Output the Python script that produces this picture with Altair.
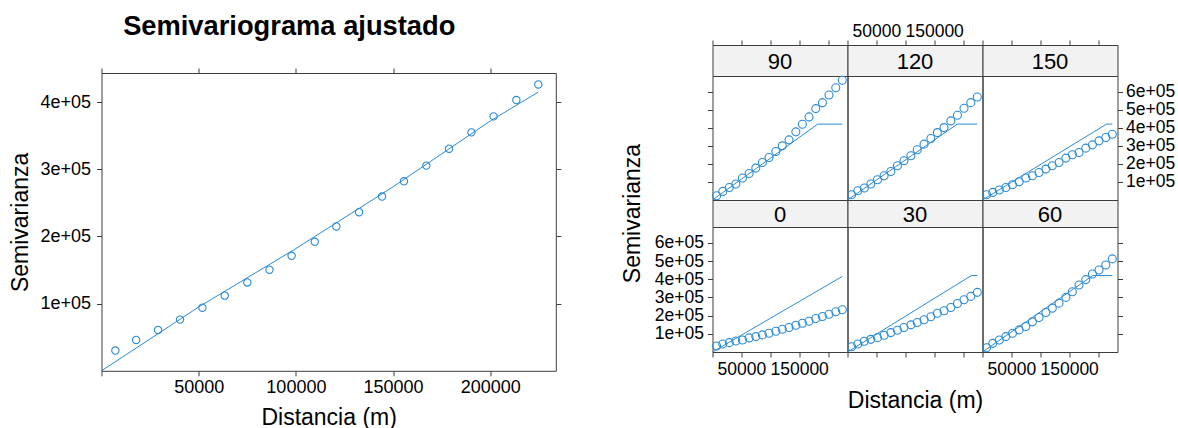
import altair as alt
import pandas as pd

FONT = "Liberation Sans"
BLUE = "#2a8ad6"
FRAME = "#3c3c3c"
STRIP_BG = "#f2f2f2"

# ---- omnidirectional sample variogram (left) ----
dist = [7150, 17800, 29100, 40400, 51900, 63400, 75000, 86400, 97800, 109700,
        120800, 132500, 144300, 155600, 167100, 178800, 190300, 201700, 213400, 224700]
gamma = [30200, 45900, 60800, 76200, 94000, 111900, 131600, 150500, 171300, 192100,
         214900, 236100, 259400, 282200, 305500, 330700, 355000, 378800, 403100, 426300]
# fitted model (left)
fit_dist = [0, 50000, 100000, 150000, 200000, 224700]
fit_gamma = [0, 95000, 182000, 274000, 372000, 415000]

# ---- directional sample variograms (right) ----
dist_dir = dist
gamma_0 = [33200, 44300, 51500, 60900, 66400, 77500, 84700, 94100, 102900, 114000,
           125100, 134500, 147200, 158300, 169300, 184300, 195400, 208100, 221400, 232400]
gamma_30 = [29300, 44300, 58900, 69700, 79100, 92000, 106800, 119700, 134500, 149400,
            162100, 177100, 193700, 213600, 226900, 245200, 267300, 287800, 306000, 328200]
gamma_60 = [23800, 47600, 66400, 84700, 102900, 121700, 140000, 166000, 189800, 217500,
            241300, 269000, 300500, 332000, 368600, 398400, 429400, 451600, 479200, 512500]
gamma_90 = [23800, 47600, 69700, 88500, 121700, 147200, 177100, 208100, 235800, 269000,
            300500, 333700, 378000, 420600, 461000, 507000, 540000, 582700, 623100, 664100]
gamma_120 = [29300, 51500, 66400, 88500, 112300, 134500, 158300, 189800, 217500, 245200,
             278400, 309900, 340900, 374100, 401800, 438800, 470400, 509100, 540100, 571700]
gamma_150 = [29300, 42100, 55300, 69700, 84700, 101300, 121700, 134500, 152700, 171500,
             189800, 208100, 232400, 250700, 263400, 287800, 306000, 328200, 346400, 365200]
gamma_dir = {"0": gamma_0, "30": gamma_30, "60": gamma_60,
             "90": gamma_90, "120": gamma_120, "150": gamma_150}

# fitted directional models
model_dist = {"0": [0, 224700], "30": [0, 214600, 224700], "60": [0, 191000, 224700],
              "90": [0, 182000, 224700], "120": [0, 190000, 224700], "150": [0, 214600, 224700]}
model_gamma = {"0": [0, 416000], "30": [0, 421000, 421000], "60": [0, 421000, 421000],
               "90": [0, 421000, 421000], "120": [0, 421000, 421000], "150": [0, 421000, 421000]}

X_MAX = 233700
Y_MAX_LEFT = 443400
Y_MAX_DIR = 688000
X_TICKS = [0, 50000, 100000, 150000, 200000]
Y_TICKS_LEFT = [100000, 200000, 300000, 400000]
Y_TICKS_DIR = [100000, 200000, 300000, 400000, 500000, 600000]

SCI = "format(datum.value / 100000, 'd') + 'e+05'"
X_NOZERO = "datum.value == 0 ? '' : format(datum.value, 'd')"
X_ALT = "(datum.value == 50000 || datum.value == 150000) ? format(datum.value, 'd') : ''"

# layout sizes (pixels)
LW, LH = 454.3, 297.8
SPACER = 28
PW = 135
STRIP_T, PLOT_T = 31, 124
STRIP_B, PLOT_B = 27, 125
TICK_FS_L = 18
TICK_FS_R = 17.5
TICK_FS_RY = 17.5
TITLE_FS = 23
HGAP = 58


def axis(orient, values, labels=True, label_expr=None, fs=TICK_FS_R, pad=3, **kw):
    args = dict(orient=orient, values=values, grid=False, domain=False, ticks=True,
                tickSize=5, tickColor=FRAME, tickWidth=1, labels=labels, labelFont=FONT,
                labelFontSize=fs, labelColor="black", labelPadding=pad,
                labelOverlap=False, labelFlush=False, title=None)
    if label_expr:
        args["labelExpr"] = label_expr
    args.update(kw)
    return alt.Axis(**args)


TITLE_STYLE = dict(titleFont=FONT, titleFontSize=TITLE_FS, titleFontWeight="normal",
                   titleColor="black", titleBaseline="alphabetic")

# ---------------- left chart ----------------
xs_l = alt.Scale(domain=[0, X_MAX], nice=False, zero=False)
ys_l = alt.Scale(domain=[0, Y_MAX_LEFT], nice=False, zero=False)
left_df = pd.DataFrame({"dist": dist, "gamma": gamma})
fit_df = pd.DataFrame({"dist": fit_dist, "gamma": fit_gamma})

left_pts = alt.Chart(left_df).mark_point(
    shape="circle", filled=False, size=54, color=BLUE, strokeWidth=1.1, opacity=1
).encode(
    x=alt.X("dist:Q", scale=xs_l, axis=axis(
        "bottom", X_TICKS, label_expr=X_NOZERO, fs=TICK_FS_L, title="Distancia (m)",
        titleY=54, **TITLE_STYLE)),
    y=alt.Y("gamma:Q", scale=ys_l, axis=axis(
        "left", Y_TICKS_LEFT, label_expr=SCI, fs=TICK_FS_L, pad=6, title="Semivarianza",
        titleX=-73.7, titleY=LH / 2, **TITLE_STYLE)),
)
left_line = alt.Chart(fit_df).mark_line(color=BLUE, strokeWidth=1).encode(
    x=alt.X("dist:Q", scale=xs_l, axis=None),
    y=alt.Y("gamma:Q", scale=ys_l, axis=None),
)
left_frame = alt.Chart(left_df).mark_point(opacity=0).encode(
    x=alt.X("dist:Q", scale=xs_l, axis=axis("top", X_TICKS, labels=False)),
    y=alt.Y("gamma:Q", scale=ys_l, axis=axis("right", Y_TICKS_LEFT, labels=False)),
)
left = alt.layer(left_pts, left_line, left_frame).resolve_axis(
    x="independent", y="independent"
).properties(width=LW, height=LH)

spacer = alt.Chart(pd.DataFrame({"b": [0]})).mark_point(opacity=0).encode(
    x=alt.value(0), y=alt.value(0)
).properties(
    width=LW, height=SPACER, view=alt.ViewBackground(strokeWidth=0),
    title=alt.TitleParams(
        text="Semivariograma ajustado", font=FONT, fontSize=27.3, fontWeight="bold",
        color="black", anchor="middle", dx=-39.4, dy=28.3, baseline="alphabetic", offset=8),
)

left_group = alt.vconcat(spacer, left, spacing=0, bounds="flush")

# ---------------- right panels ----------------
xs_d = alt.Scale(domain=[0, X_MAX], nice=False, zero=False)
ys_d = alt.Scale(domain=[0, Y_MAX_DIR], nice=False, zero=False)


def panel(d, h, xaxis=None, yaxis=None):
    dfp = pd.DataFrame({"dist": dist_dir, "gamma": gamma_dir[d]})
    dfm = pd.DataFrame({"dist": model_dist[d], "gamma": model_gamma[d]})
    pts = alt.Chart(dfp).mark_point(
        shape="circle", filled=False, size=64, color=BLUE, strokeWidth=1.1, opacity=1
    ).encode(
        x=alt.X("dist:Q", scale=xs_d, axis=xaxis),
        y=alt.Y("gamma:Q", scale=ys_d, axis=yaxis),
    )
    ln = alt.Chart(dfm).mark_line(color=BLUE, strokeWidth=1).encode(
        x=alt.X("dist:Q", scale=xs_d, axis=None),
        y=alt.Y("gamma:Q", scale=ys_d, axis=None),
    )
    return alt.layer(pts, ln).resolve_axis(
        x="independent", y="independent"
    ).properties(width=PW, height=h)


def strip(d, h, xaxis=None):
    txt = alt.Chart(pd.DataFrame({"dir": [d]})).mark_text(
        font=FONT, fontSize=22, color="black", baseline="middle", align="center"
    ).encode(text="dir:N", x=alt.value(PW / 2), y=alt.value(h / 2 + 1))
    layers = [txt]
    if xaxis is not None:
        layers.append(alt.Chart(pd.DataFrame({"dist": dist_dir})).mark_point(opacity=0).encode(
            x=alt.X("dist:Q", scale=xs_d, axis=xaxis)))
    return alt.layer(*layers).properties(
        width=PW, height=h, view=alt.ViewBackground(fill=STRIP_BG, stroke=FRAME))


right_grid = alt.concat(
    strip("90", STRIP_T, axis("top", X_TICKS, labels=False)),
    strip("120", STRIP_T, axis("top", X_TICKS, label_expr=X_ALT, pad=0)),
    strip("150", STRIP_T, axis("top", X_TICKS, labels=False)),

    panel("90", PLOT_T, yaxis=axis("left", Y_TICKS_DIR, labels=False)),
    panel("120", PLOT_T),
    panel("150", PLOT_T, yaxis=axis("right", Y_TICKS_DIR, label_expr=SCI, fs=TICK_FS_RY)),

    strip("0", STRIP_B), strip("30", STRIP_B), strip("60", STRIP_B),

    panel("0", PLOT_B,
          xaxis=axis("bottom", X_TICKS, label_expr=X_ALT),
          yaxis=axis("left", Y_TICKS_DIR, label_expr=SCI, fs=TICK_FS_RY, pad=4,
                     title="Semivarianza", titleX=-73.5, titleY=-14, **TITLE_STYLE)),
    panel("30", PLOT_B,
          xaxis=axis("bottom", X_TICKS, labels=False, title="Distancia (m)",
                     titleY=55, **TITLE_STYLE)),
    panel("60", PLOT_B,
          xaxis=axis("bottom", X_TICKS, label_expr=X_ALT),
          yaxis=axis("right", Y_TICKS_DIR, labels=False)),
    columns=3, spacing=0, bounds="flush", align="each",
)

chart = alt.hconcat(left_group, right_grid, spacing=HGAP).properties(
    padding={"left": 8.5, "top": 13, "right": 0, "bottom": 0}
).configure(font=FONT).configure_view(stroke=FRAME, strokeWidth=1)

chart.save("out.html", embed_options={"renderer": "svg", "actions": False})
